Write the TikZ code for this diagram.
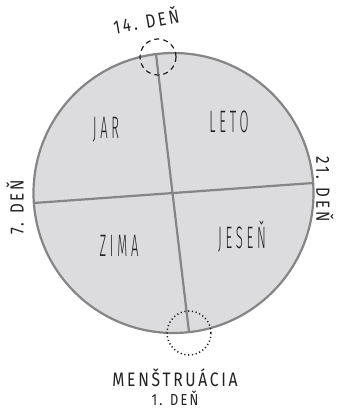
\documentclass[tikz,border=0pt]{standalone}
\usepackage{fontspec}
\IfFontExistsTF{Fira Sans Light}{\def\thinfam{Fira Sans Light}}{\def\thinfam{Fira Sans}}
\setmainfont{Fira Sans}
\newfontfamily\labfont[FakeStretch=0.8,LetterSpace=14]{Fira Sans}
\newfontfamily\condfont[FakeStretch=0.42,LetterSpace=12]{\thinfam}
\definecolor{fillg}{HTML}{DCDCDE}
\definecolor{lineg}{HTML}{858585}
\definecolor{txt}{HTML}{222222}
\begin{document}
\begin{tikzpicture}[x=1pt,y=-1pt,
  season/.style={text=txt,font=\condfont\fontsize{31}{33}\selectfont,inner sep=0pt},
  daylab/.style={text=txt,font=\labfont\fontsize{19}{20}\selectfont,inner sep=0pt}]
\useasboundingbox (0,0) rectangle (340,409);
\node[circle,draw=lineg,fill=fillg,line width=2.2pt,minimum size=280pt,inner sep=0pt] (c) at (173.5,193) {};
\coordinate (t) at (156,54);
\coordinate (b) at (189,332);
\coordinate (l) at (34,203);
\coordinate (r) at (313,183);
\draw[lineg,line width=2.2pt] (t) -- (b);
\draw[lineg,line width=2.2pt] (l) -- (r);
\node[circle,draw=txt,dash pattern=on 5pt off 4pt,line width=1.2pt,minimum size=36pt,inner sep=0pt] (top) at (158,57) {};
\node[circle,draw=txt,dash pattern=on 1.2pt off 2.6pt,line width=1.5pt,minimum size=44pt,inner sep=0pt] (bot) at (189,333) {};
\node[season] (jar) at (106,130) {JAR};
\node[season] (leto) at (229,122) {LETO};
\node[season] (zima) at (119,246) {ZIMA};
\node[season] (jesen) at (242,237) {JESEŇ};
\node[daylab,rotate=10] (d14) at (146,20) {14. DEŇ};
\node[daylab,rotate=90] (d7) at (15,207) {7. DEŇ};
\node[daylab,rotate=-90] (d21) at (325,189) {21. DEŇ};
\node[text=txt,font=\labfont\fontsize{19.5}{20}\selectfont,inner sep=0pt] (m) at (175,378) {MENŠTRUÁCIA};
\node[text=txt,font=\labfont\fontsize{16}{17}\selectfont,inner sep=0pt] (d1) at (175,398) {1. DEŇ};
\end{tikzpicture}
\end{document}
